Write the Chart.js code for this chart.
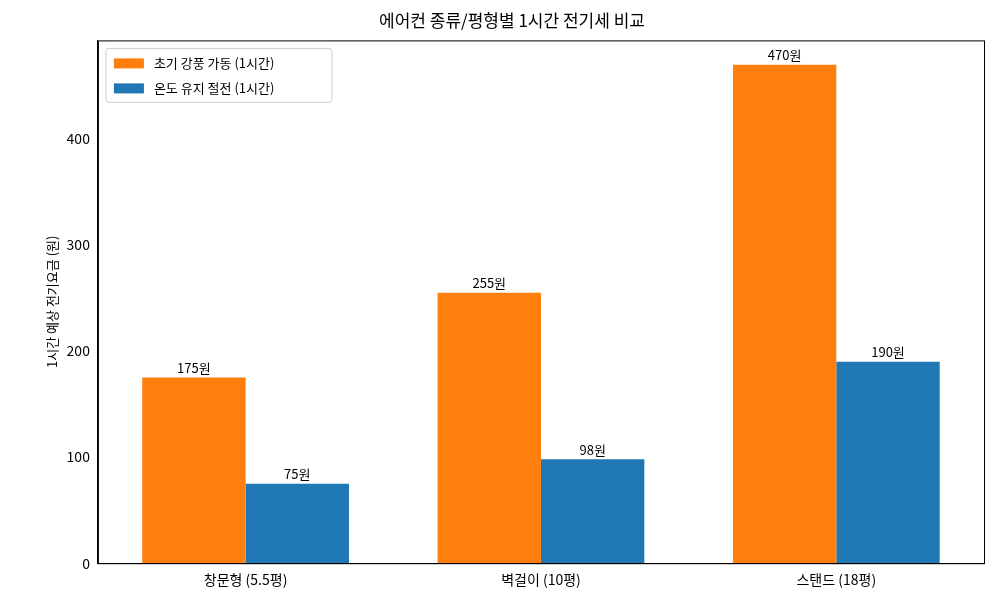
<!DOCTYPE html>
<html><head><meta charset="utf-8">
<script src="https://cdn.jsdelivr.net/npm/chart.js@4/dist/chart.umd.min.js"></script>
<style>body{margin:0;background:#fff}#wrap{width:992px;height:612px}</style>
</head><body><div id="wrap"><canvas id="c"></canvas></div>
<script>
var categories = ['창문형 (5.5평)', '벽걸이 (10평)', '스탠드 (18평)'];
var initialCool = [175, 255, 470];
var keepTemp = [75, 98, 190];
var seriesNames = ['초기 강풍 가동 (1시간)', '온도 유지 절전 (1시간)'];
var yTicks = [0, 100, 200, 300, 400];
var FONT = '"Noto Sans CJK KR", "Noto Sans", sans-serif';

var extras = {
  id: 'extras',
  afterDatasetsDraw: function (chart) {
    var c = chart.ctx, a = chart.chartArea;
    c.save();
    // value labels
    c.fillStyle = '#000';
    c.font = '13px ' + FONT;
    c.textAlign = 'center';
    c.textBaseline = 'bottom';
    chart.data.datasets.forEach(function (ds, i) {
      chart.getDatasetMeta(i).data.forEach(function (bar, j) {
        c.fillText(ds.data[j] + '원', bar.x, bar.y - 3);
      });
    });
    // frame
    c.strokeStyle = '#000';
    c.lineWidth = 1;
    c.strokeRect(a.left + 0.5, a.top + 0.5, a.right - a.left, a.bottom - a.top);
    // legend
    var lx = a.left + 8, ly = a.top + 8;
    c.fillStyle = 'rgba(255,255,255,0.9)';
    c.strokeStyle = '#ccc';
    c.beginPath();
    c.roundRect(lx, ly, 226, 54, 3);
    c.fill(); c.stroke();
    c.textAlign = 'left';
    c.textBaseline = 'middle';
    chart.data.datasets.forEach(function (ds, i) {
      var y = ly + 15 + i * 25;
      c.fillStyle = ds.backgroundColor;
      c.fillRect(lx + 8, y - 5, 30, 10);
      c.fillStyle = '#000';
      c.fillText(ds.label, lx + 48, y);
    });
    c.restore();
  }
};

new Chart(document.getElementById('c'), {
  type: 'bar',
  data: {
    labels: categories,
    datasets: [
      { label: seriesNames[0], data: initialCool, backgroundColor: '#ff7f0e' },
      { label: seriesNames[1], data: keepTemp, backgroundColor: '#1f77b4' }
    ]
  },
  plugins: [extras],
  options: {
    responsive: true,
    maintainAspectRatio: false,
    animation: false,
    layout: { padding: { top: 6, right: 8, bottom: 21, left: 40 } },
    datasets: { bar: { barPercentage: 1, categoryPercentage: 0.7 } },
    plugins: {
      legend: { display: false },
      tooltip: { enabled: false },
      title: {
        display: true,
        text: '에어컨 종류/평형별 1시간 전기세 비교',
        color: '#000',
        font: { family: FONT, size: 17, weight: 'normal' },
        padding: { top: 4, bottom: 10 }
      }
    },
    scales: {
      x: {
        grid: { display: false, drawTicks: true, tickLength: 5, tickColor: '#000' },
        border: { color: '#000' },
        ticks: { color: '#000', font: { family: FONT, size: 14 } }
      },
      y: {
        min: 0, max: 493,
        afterBuildTicks: function (s) { s.ticks = yTicks.map(function (v) { return { value: v }; }); },
        grid: { display: false, drawTicks: true, tickLength: 5, tickColor: '#000' },
        border: { color: '#000' },
        ticks: { color: '#000', font: { family: FONT, size: 14 } },
        title: { display: true, text: '1시간 예상 전기요금 (원)', color: '#000', font: { family: FONT, size: 13 } }
      }
    }
  }
});
</script></body></html>
